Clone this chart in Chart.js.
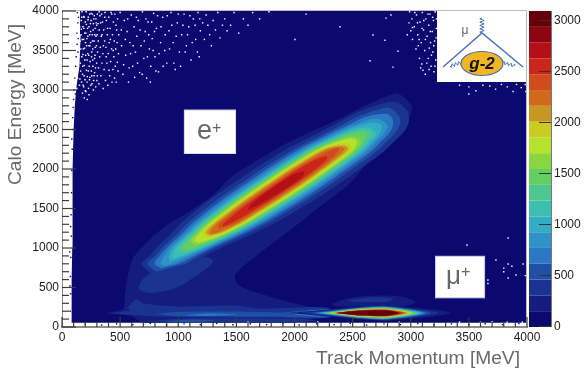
<!DOCTYPE html>
<html>
<head>
<meta charset="utf-8">
<title>Calo Energy vs Track Momentum</title>
<script src="https://cdn.jsdelivr.net/npm/chart.js@4/dist/chart.umd.min.js"></script>
<style>
    html, body { margin: 0; padding: 0; background: #fff; }
    canvas { display: block; }
</style>
</head>
<body>
<canvas id="hist" width="586" height="370"></canvas>
<script>
// colour bar: lower edge of every level, and its colour
const barEdges = [0, 155, 310, 464, 619, 774, 928, 1083, 1238, 1392, 1547, 1702, 1856, 2011, 2166, 2320, 2475, 2630, 2784, 2939, 3094];
const barTicks = [0, 500, 1000, 1500, 2000, 2500, 3000];
const levelColors = ['#0b0870', '#141c7f', '#1a3290', '#1f50a8', '#2b78c5', '#2f93c6', '#33acc6', '#3dbfb0', '#4dc68f', '#63cf60',
    '#88d640', '#b5e32c', '#cbcc20', '#c7981f', '#d1691b', '#d04c1c', '#cc2419', '#b40f16', '#8e0512', '#670009'];

// filled region of the histogram (everything with at least one entry)
const filledP = [78, 82, 84, 88, 90, 92, 100, 110, 125, 150, 160, 155, 4000, 4000];
const filledE = [55, 300, 600, 1000, 1500, 2000, 2500, 2800, 3050, 3300, 3700, 4000, 4000, 55];

// level 1 outline: the e+ ridge, the plume under it and the low band
const level1P = [2000, 1800, 1600, 1500, 1490, 1560, 1760, 1987, 2250, 2477, 2650, 2821, 2968, 3011, 2950, 2880, 2778, 2563, 2366, 2133, 1900, 1670, 1457, 1299, 1075, 903, 731, 611, 568, 540, 525, 390, 600, 680, 1000, 1500, 2000, 2150, 2133];
const level1E = [300, 380, 470, 560, 660, 770, 1000, 1253, 1560, 1820, 2114, 2329, 2582, 2785, 2900, 2960, 2911, 2772, 2620, 2468, 2300, 2100, 1900, 1671, 1443, 1291, 1076, 873, 658, 400, 230, 175, 140, 60, 60, 60, 60, 110, 253];

// small patches of the plume, the band at 150 MeV and the blob above the mu+ peak
const patchLevel = [1, 2, 2, 2, 2, 3, 3, 4, 4, 2];
const patchP = [
    [2320, 2450, 2650, 2900, 3040, 2950, 2600, 2350],
    [690, 660, 760, 950, 1075, 1300, 1150, 880, 760],
    [560, 640, 700, 1000, 1500, 1650, 1000, 600],
    [420, 700, 1200, 1800, 2300, 2300, 1800, 1200, 700],
    [720, 1000, 1500, 2000, 2200, 2000, 1500, 1000],
    [800, 1000, 1500, 1900, 2100, 2300, 2300, 1900, 1500, 1000],
    [880, 1100, 1300, 1200, 1000],
    [1980, 2100, 2300, 2300, 2100],
    [1050, 1250, 1500, 1250],
    [2450, 2650, 2850, 2800, 2500]
];
const patchE = [
    [290, 360, 395, 390, 320, 265, 260, 260],
    [600, 480, 430, 480, 570, 830, 900, 780, 680],
    [240, 350, 300, 260, 270, 240, 210, 200],
    [175, 225, 240, 235, 240, 120, 120, 120, 140],
    [70, 105, 110, 105, 85, 60, 60, 60],
    [165, 190, 195, 185, 215, 220, 130, 130, 130, 135],
    [75, 95, 85, 60, 60],
    [165, 200, 215, 140, 140],
    [150, 170, 155, 140],
    [340, 375, 360, 320, 320]
];

// e+ ridge: at each energy row the centre in momentum and the half width of levels 2..17
const ridgeEnergy = [800, 900, 1000, 1100, 1200, 1300, 1400, 1550, 1700, 1900, 2100, 2250, 2350, 2450, 2550, 2650, 2750, 2850];
const ridgeCentre = [900, 990, 1090, 1200, 1310, 1410, 1510, 1660, 1810, 2010, 2210, 2360, 2460, 2560, 2650, 2715, 2780, 2830];
const ridgeHalf = [
    [215, 239, 278, 320, 359, 398, 422, 445, 457, 457, 450, 430, 399, 369, 323, 270, 184, 0],
    [165, 189, 227, 266, 303, 338, 359, 380, 391, 391, 384, 365, 333, 301, 252, 192, 67, 0],
    [105, 151, 191, 230, 265, 298, 317, 336, 345, 345, 339, 320, 286, 252, 197, 122, 0, 0],
    [50, 110, 162, 200, 235, 267, 285, 302, 311, 311, 304, 285, 250, 212, 150, 0, 0, 0],
    [0, 70, 134, 174, 210, 240, 256, 272, 281, 281, 274, 255, 217, 175, 100, 0, 0, 0],
    [0, 40, 111, 153, 190, 220, 236, 252, 261, 261, 252, 232, 191, 143, 0, 0, 0, 0],
    [0, 0, 85, 133, 172, 203, 217, 233, 242, 242, 232, 212, 166, 108, 0, 0, 0, 0],
    [0, 0, 53, 112, 154, 184, 200, 214, 223, 223, 214, 191, 139, 62, 0, 0, 0, 0],
    [0, 0, 0, 90, 136, 167, 182, 197, 205, 205, 194, 171, 111, 0, 0, 0, 0, 0],
    [0, 0, 0, 61, 118, 149, 164, 178, 188, 188, 176, 150, 76, 0, 0, 0, 0, 0],
    [0, 0, 0, 0, 96, 130, 144, 159, 167, 167, 155, 127, 0, 0, 0, 0, 0, 0],
    [0, 0, 0, 0, 71, 109, 123, 138, 146, 146, 131, 101, 0, 0, 0, 0, 0, 0],
    [0, 0, 0, 0, 40, 87, 101, 116, 124, 124, 108, 71, 0, 0, 0, 0, 0, 0],
    [0, 0, 0, 0, 0, 60, 77, 92, 101, 101, 82, 27, 0, 0, 0, 0, 0, 0],
    [0, 0, 0, 0, 0, 24, 50, 69, 80, 80, 54, 0, 0, 0, 0, 0, 0, 0],
    [0, 0, 0, 0, 0, 0, 0, 36, 56, 56, 0, 0, 0, 0, 0, 0, 0, 0]
];
// where each ridge level ends, low end and high end
const ridgeLowP = [770, 810, 850, 890, 930, 960, 1040, 1065, 1140, 1170, 1250, 1275, 1290, 1350, 1385, 1600];
const ridgeLowE = [670, 700, 745, 775, 830, 870, 930, 965, 1030, 1065, 1130, 1155, 1175, 1240, 1270, 1480];
const ridgeHighP = [2850, 2800, 2780, 2710, 2680, 2620, 2600, 2580, 2510, 2490, 2450, 2420, 2400, 2380, 2280, 2080];
const ridgeHighE = [2850, 2780, 2700, 2640, 2590, 2530, 2500, 2470, 2410, 2385, 2330, 2300, 2280, 2270, 2160, 1970];

// mu+ peak: left end, right end and half height of levels 1..19, around 177 MeV
const muLeft = [1950, 2050, 2130, 2170, 2200, 2220, 2240, 2255, 2270, 2285, 2300, 2315, 2330, 2340, 2350, 2355, 2360, 2365, 2375];
const muRight = [3350, 3240, 3170, 3130, 3110, 3090, 3075, 3060, 3045, 3030, 3010, 2990, 2975, 2960, 2945, 2930, 2915, 2900, 2890];
const muHalf = [100, 90, 85, 80, 76, 72, 68, 64, 60, 56, 52, 49, 45, 42, 40, 38, 36, 34, 30];

// empty bins inside the filled region, as momentum,energy pairs
const emptyBins = [
    150,3960, 165,3880, 172,3990, 180,3800, 186,3930, 195,3720, 200,3860, 208,3990, 214,3650, 220,3780, 226,3920, 232,3560, 238,3700, 244,3840, 250,3970, 256,3480, 262,3620, 268,3760, 274,3900, 280,3400, 286,3540, 292,3680, 298,3820, 304,3960,
    170,3420, 178,3300, 184,3520, 190,3180, 196,3380, 202,3600, 210,3250, 216,3100, 222,3460, 228,3020, 234,3300, 240,3160, 246,3600, 252,3240, 258,3080, 264,3380, 270,3000, 276,3180, 282,3700, 288,3280, 294,3850, 300,3120,
    160,3240, 168,3100, 176,2960, 186,3040, 192,2900, 206,2980, 218,2880, 232,2940, 150,3060, 156,3620, 148,3500, 164,3700, 152,3800,
    130,3940, 136,3760, 142,3600, 146,3420, 140,3280, 134,3150, 128,3020, 154,3140, 158,3340, 162,3520, 166,3770, 170,3920, 174,3640, 176,3200, 180,3450, 182,3060, 186,3640, 188,3780, 190,3920, 192,3310, 194,3530, 198,3130, 200,2990, 204,3440, 206,3720, 210,3830, 212,3560, 216,3380, 218,3170, 222,3680, 224,3890, 226,3240, 230,3440, 232,3800, 236,3130, 238,3960, 240,3560, 242,3360, 246,3740, 248,3060, 250,3880, 254,3420, 256,3180, 260,3700, 262,3960, 264,3520, 266,3300, 270,3840, 272,3120, 276,3620, 278,3940, 280,3220, 284,3440, 286,3780, 290,3040, 292,3900, 296,3560, 298,3340, 302,3700, 304,3180, 306,3480, 310,3840, 312,3620, 314,3280, 318,3080, 320,3760, 324,3420, 326,3940, 330,3540, 334,3180, 338,3680, 340,3960, 344,3340, 348,3860, 352,3460, 354,3020, 358,3760, 362,3260, 366,3620, 370,3980, 374,3120, 378,3540, 382,3880, 386,3340, 390,3700, 394,3060, 398,3460, 402,3920, 406,3600, 410,3180, 414,3780, 418,3360, 422,3980, 426,3520, 430,3100, 434,3700, 438,3260, 442,3860, 446,3420, 450,3620, 454,3960, 458,3300, 462,3520, 466,3100, 470,3760, 474,3600, 478,3900, 482,3240, 486,3460,
    320,3990, 332,3850, 344,3700, 356,3560, 368,3920, 380,3420, 392,3780, 404,3250, 416,3640, 428,3960, 440,3500, 452,3150, 464,3820, 476,3350, 488,3700, 500,3980, 512,3560, 524,3200, 536,3880, 548,3440, 560,3740, 572,3100, 584,3600, 596,3950, 608,3300, 620,3800, 632,3480, 644,3680, 656,3880, 668,3220, 680,3560, 692,3990, 704,3400, 716,3740, 728,3150, 740,3860, 752,3520, 764,3300, 776,3650, 788,3970, 800,3420,
    812,3780, 830,3230, 848,3600, 866,3920, 884,3500, 902,3340, 920,3750, 938,3980, 956,3600, 974,3260, 992,3850, 1010,3480, 1030,3700, 1050,3960, 1070,3560, 1090,3800, 1110,3380, 1130,3900, 1150,3640, 1170,3980, 1190,3750, 1210,3850, 1240,3950, 1270,3700, 1300,3880, 1340,3980, 1380,3820, 1420,3750, 1480,3980, 1560,3900, 1640,3980, 1780,3990, 2100,3960, 2004,3640, 1180,3420,
    510,3760, 530,3320, 545,3640, 565,3900, 578,3280, 590,3460, 612,3560, 625,3160, 640,3920, 650,3340, 672,3760, 690,3200, 708,3620, 722,3900, 735,3420, 746,3700, 760,3100, 772,3860, 784,3500, 796,3740, 808,3240, 822,3940, 836,3460, 852,3800, 870,3300, 888,3700, 906,3940, 925,3520, 945,3820, 962,3340, 982,3680, 1000,3960, 1020,3300, 1040,3820, 1060,3480, 1080,3700, 1100,3940, 1120,3600, 1145,3820, 1165,3480, 1185,3900, 1225,3640, 1255,3820, 1285,3560, 1320,3760, 1360,3660, 1400,3900, 1450,3820, 1520,3720, 1600,3820, 1700,3900,
    2391,3800, 2675,3696, 2778,3630, 2650,3370, 2847,3290, 2890,3490, 2787,3910, 2830,3950,
    2990,3990, 3010,3900, 3030,3800, 3050,3950, 3060,3700, 3080,3860, 3090,3600, 3100,3980, 3110,3760, 3120,3500, 3130,3900, 3140,3680, 3150,3400, 3155,3820, 3165,3960, 3170,3600, 3175,3300, 3185,3740, 3190,3480, 3195,3880, 3200,3230, 3205,3620, 3210,3990, 3215,3380, 3220,3780, 3105,3250, 3075,3400, 3045,3520, 3015,3640, 3000,3750, 2985,3850, 2970,3700, 3095,3330, 3125,3200, 3160,3530,
    3065,3560, 3085,3280, 3098,3780, 3112,3880, 3126,3640, 3138,3340, 3148,3960, 3158,3260, 3168,3740, 3178,3440, 3188,3920, 3198,3560, 3208,3300, 3218,3660, 3222,3900, 3035,3980, 3058,3850, 3072,3640, 3015,3790,
    3420,3060, 3500,3040, 3560,2990, 3620,3060, 3680,3050, 3730,3010, 3780,3070, 3830,3040, 3880,2980, 3910,3070, 3950,3030, 3985,3070, 3990,2980, 3500,2950,
    3838,1126, 3484,1038, 3733,848, 3838,797, 3870,770, 3800,745, 3800,700, 3905,658, 3966,797, 3985,650, 3838,620, 3664,595, 3664,550,
    1600,62, 2200,64, 2900,62, 3420,62, 3600,60, 3700,65, 3830,62, 3960,60
];
// stray filled bins outside the filled region, same format
const strayBins = [
    70,200, 74,420, 72,640, 76,880, 80,1150, 78,1420, 82,1700, 84,1980, 88,2250, 90,2500, 92,2650, 100,2880, 104,3000, 110,3150, 118,3300, 122,3420, 130,3580, 128,3720, 136,3850, 132,3980, 142,3920, 140,3650, 138,3480, 115,2950, 96,2780, 84,2380, 74,1270, 66,950, 68,520,
    200,35, 340,25, 470,40, 610,30, 760,45, 900,25, 1050,40, 1190,30, 1330,45, 1470,28, 1620,40, 1760,30, 1900,45, 2040,25, 2190,40, 2340,30, 2480,45, 2620,25, 2770,40, 2910,30, 3060,45, 3200,28, 3350,40, 3500,28, 3640,42, 3790,30, 3930,45
];

const levelOf = (n) => levelColors[n];

function zipPoints(ps, es) {
    return ps.map((p, i) => ({ x: p, y: es[i] }));
}

function pairPoints(flat) {
    const out = [];
    for (let i = 0; i < flat.length; i += 2) out.push({ x: flat[i], y: flat[i + 1] });
    return out;
}

function contour(points, level, tension) {
    return {
        data: points,
        showLine: true,
        contourFill: levelOf(level),
        borderWidth: 0,
        pointRadius: 0,
        tension: tension,
        capBezierPoints: true
    };
}

function ridgePoints(i) {
    const half = ridgeHalf[i];
    const left = [], right = [];
    ridgeEnergy.forEach((e, j) => {
        if (!half[j]) return;
        left.push({ x: ridgeCentre[j] - half[j], y: e });
        right.unshift({ x: ridgeCentre[j] + half[j], y: e });
    });
    return [{ x: ridgeLowP[i], y: ridgeLowE[i] }, ...left, { x: ridgeHighP[i], y: ridgeHighE[i] }, ...right];
}

function muPoints(i) {
    const h = muHalf[i];
    return zipPoints([muLeft[i], 2550, 2790, muRight[i], 2790, 2550],
        [177, 177 + 0.8 * h, 177 + h, 177, 177 - h, 177 - 0.8 * h]);
}

// build the datasets, later ones end up on top
const datasets = [];
datasets.push(contour(zipPoints(filledP, filledE), 0, 0));
datasets.push(contour(zipPoints(level1P, level1E), 1, 0.25));
patchLevel.forEach((lvl, i) => datasets.push(contour(zipPoints(patchP[i], patchE[i]), lvl, 0.3)));
ridgeHalf.forEach((h, i) => datasets.push(contour(ridgePoints(i), i + 2, 0.35)));
muHalf.forEach((h, i) => datasets.push(contour(muPoints(i), i + 1, 0.25)));
datasets.push({ data: pairPoints(strayBins), pointStyle: 'rect', pointRadius: 1, pointBorderWidth: 0, pointBackgroundColor: levelColors[0] });
datasets.push({ data: pairPoints(emptyBins), pointStyle: 'rect', pointRadius: 1, pointBorderWidth: 0, pointBackgroundColor: '#fff' });
datasets.forEach((d, i) => { d.order = -i; });

// the contours are closed paths, the line element gives the path
const contourFill = {
    id: 'contourFill',
    beforeDatasetDraw(chart, args) {
        const color = chart.data.datasets[args.index].contourFill;
        if (!color) return;
        const a = chart.chartArea;
        const ctx = chart.ctx;
        ctx.save();
        ctx.beginPath();
        ctx.rect(a.left, a.top, a.right - a.left, a.bottom - a.top);
        ctx.clip();
        ctx.fillStyle = color;
        ctx.beginPath();
        args.meta.dataset.path(ctx);
        ctx.closePath();
        ctx.fill();
        ctx.restore();
    }
};

function coil(ctx, x0, y0, x1, y1, n, amp) {
    const dx = (x1 - x0) / n, dy = (y1 - y0) / n;
    const len = Math.hypot(dx, dy);
    ctx.beginPath();
    ctx.moveTo(x0, y0);
    for (let i = 0; i < n; i++) {
        const s = i % 2 ? -amp : amp;
        ctx.lineTo(x0 + dx * (i + 0.5) - dy / len * s, y0 + dy * (i + 0.5) + dx / len * s);
    }
    ctx.lineTo(x1, y1);
    ctx.stroke();
}

function whiteBox(ctx, x0, y0, x1, y1, edge) {
    ctx.fillStyle = '#fff';
    ctx.fillRect(x0, y0, x1 - x0, y1 - y0);
    if (edge) {
        ctx.strokeStyle = edge;
        ctx.lineWidth = 1;
        ctx.strokeRect(x0 + 0.5, y0 + 0.5, x1 - x0 - 1, y1 - y0 - 1);
    }
}

const overlays = {
    id: 'overlays',
    afterDatasetsDraw(chart) {
        const ctx = chart.ctx;
        const xs = chart.scales.x, ys = chart.scales.y, bar = chart.scales.bar;
        const a = chart.chartArea;
        ctx.save();

        // top and right frame
        ctx.strokeStyle = '#bbbbc8';
        ctx.lineWidth = 1;
        ctx.beginPath();
        ctx.moveTo(a.left, a.top - 0.5);
        ctx.lineTo(a.right - 0.5, a.top - 0.5);
        ctx.lineTo(a.right - 0.5, a.bottom);
        ctx.stroke();

        // ROOT style ticks, pointing into the plot
        ctx.strokeStyle = '#3c3c3c';
        ctx.lineWidth = 1.2;
        xs.ticks.forEach((t) => {
            const px = xs.getPixelForValue(t.value);
            ctx.beginPath();
            ctx.moveTo(px, a.bottom);
            ctx.lineTo(px, a.bottom - (t.value % 500 === 0 ? 10 : 5));
            ctx.stroke();
        });
        ys.ticks.forEach((t) => {
            const py = ys.getPixelForValue(t.value);
            ctx.beginPath();
            ctx.moveTo(a.left, py);
            ctx.lineTo(a.left + (t.value % 500 === 0 ? 14 : 7), py);
            ctx.stroke();
        });

        // colour bar
        const barLeft = a.right + 2, barRight = a.right + 24;
        barEdges.slice(0, -1).forEach((v, i) => {
            const yTop = bar.getPixelForValue(barEdges[i + 1]);
            const yBot = bar.getPixelForValue(v);
            ctx.fillStyle = levelColors[i];
            ctx.fillRect(barLeft, yTop, barRight - barLeft, yBot - yTop);
        });
        ctx.strokeStyle = '#333';
        ctx.lineWidth = 1;
        bar.ticks.forEach((t) => {
            const py = Math.round(bar.getPixelForValue(t.value)) - 0.5;
            ctx.beginPath();
            ctx.moveTo(barLeft + 10, py);
            ctx.lineTo(barRight, py);
            ctx.stroke();
        });
        ctx.strokeStyle = '#777';
        ctx.beginPath();
        ctx.moveTo(barRight + 0.5, a.top);
        ctx.lineTo(barRight + 0.5, a.bottom);
        ctx.stroke();

        // label boxes
        ctx.textAlign = 'left';
        ctx.textBaseline = 'alphabetic';
        whiteBox(ctx, xs.getPixelForValue(1049), ys.getPixelForValue(2750), xs.getPixelForValue(1497), ys.getPixelForValue(2190), '#d8d8e6');
        ctx.fillStyle = '#666';
        ctx.font = '27px "Liberation Sans"';
        ctx.fillText('e', 197, 139);
        ctx.font = '16px "Liberation Sans"';
        ctx.fillText('+', 212, 133);
        whiteBox(ctx, xs.getPixelForValue(3209), ys.getPixelForValue(900), xs.getPixelForValue(3639), ys.getPixelForValue(365), '#c8c8e0');
        ctx.fillStyle = '#666';
        ctx.font = '26px "Liberation Sans"';
        ctx.fillText('μ', 446, 284);
        ctx.font = '16px "Liberation Sans"';
        ctx.fillText('+', 461, 277);

        // g-2 logo
        whiteBox(ctx, xs.getPixelForValue(3226), ys.getPixelForValue(4000), a.right - 1, ys.getPixelForValue(3101));
        ctx.strokeStyle = '#4a6fb5';
        ctx.lineWidth = 1.4;
        ctx.beginPath();
        ctx.moveTo(443, 67);
        ctx.lineTo(482, 33);
        ctx.lineTo(523, 67);
        ctx.stroke();
        ctx.lineWidth = 1;
        coil(ctx, 482, 18, 482, 33, 9, 2.2);
        coil(ctx, 450, 66, 463, 62, 8, 1.6);
        coil(ctx, 501, 62, 515, 66, 8, 1.6);
        ctx.fillStyle = '#f2b61f';
        ctx.strokeStyle = '#4a6fb5';
        ctx.lineWidth = 1.2;
        ctx.beginPath();
        ctx.ellipse(482, 63.5, 21, 12, 0, 0, Math.PI * 2);
        ctx.fill();
        ctx.stroke();
        ctx.fillStyle = '#111';
        ctx.font = 'italic bold 17px "Liberation Sans"';
        ctx.textAlign = 'center';
        ctx.fillText('g-2', 482, 69);
        ctx.fillStyle = '#666';
        ctx.font = '12px "Liberation Sans"';
        ctx.fillText('μ', 465, 34);

        // axis titles
        ctx.fillStyle = '#6a6a6a';
        ctx.font = '19.2px "Liberation Sans"';
        ctx.textAlign = 'right';
        ctx.fillText('Track Momentum [MeV]', 520, 364);
        ctx.save();
        ctx.translate(21, 24);
        ctx.rotate(-Math.PI / 2);
        ctx.fillText('Calo Energy [MeV]', 0, 0);
        ctx.restore();

        ctx.restore();
    }
};

const tickFont = { family: '"Liberation Sans"', size: 12 };
const hiddenGrid = { display: false, drawTicks: false };

new Chart(document.getElementById('hist').getContext('2d'), {
    type: 'scatter',
    data: { datasets: datasets },
    plugins: [contourFill, overlays],
    options: {
        responsive: false,
        animation: false,
        events: [],
        layout: { padding: { top: 11 } },
        plugins: { legend: { display: false }, tooltip: { enabled: false } },
        scales: {
            x: {
                type: 'linear',
                min: 0,
                max: 4000,
                grid: hiddenGrid,
                border: { color: '#8a8a8a', width: 2 },
                afterFit: (s) => { s.height = 43; },
                ticks: {
                    stepSize: 100,
                    autoSkip: false,
                    maxRotation: 0,
                    padding: 3,
                    color: '#222',
                    font: tickFont,
                    callback: (v) => (v % 500 === 0 ? String(v) : '')
                }
            },
            y: {
                type: 'linear',
                min: 0,
                max: 4000,
                grid: hiddenGrid,
                border: { color: '#8a8a8a', width: 1 },
                afterFit: (s) => { s.width = 62; },
                ticks: {
                    stepSize: 100,
                    autoSkip: false,
                    padding: 3,
                    color: '#222',
                    font: tickFont,
                    callback: (v) => (v % 500 === 0 ? String(v) : '')
                }
            },
            bar: {
                type: 'linear',
                position: 'right',
                min: 0,
                max: 3094,
                grid: hiddenGrid,
                border: { display: false },
                afterBuildTicks: (s) => { s.ticks = barTicks.map((v) => ({ value: v })); },
                // the tick padding would otherwise also push the chart area in
                afterFit: (s) => { s.width = 59; s.paddingTop = 0; s.paddingBottom = 0; },
                ticks: {
                    padding: 27,
                    color: '#222',
                    font: tickFont,
                    callback: (v) => String(v)
                }
            }
        }
    }
});
</script>
</body>
</html>
